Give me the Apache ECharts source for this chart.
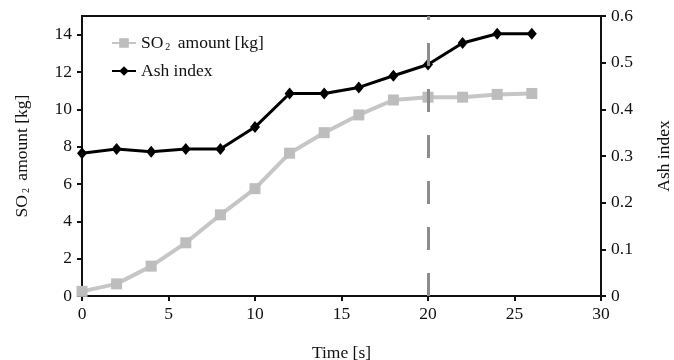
<!DOCTYPE html>
<html>
<head>
<meta charset="utf-8">
<script src="https://cdn.jsdelivr.net/npm/echarts@6/dist/echarts.min.js"></script>
<style>
  html, body { margin: 0; padding: 0; background: #fff; }
  #chart { width: 674px; height: 360px; }
</style>
</head>
<body>
<div id="chart"></div>
<script>
// time [s]
const times = [0, 2, 4, 6, 8, 10, 12, 14, 16, 18, 20, 22, 24, 26];
// SO2 amount [kg], left axis
const so2 = [0.25, 0.65, 1.6, 2.85, 4.35, 5.75, 7.65, 8.75, 9.7, 10.5, 10.65, 10.65, 10.8, 10.85];
// ash index, right axis
const ash = [0.306, 0.315, 0.309, 0.315, 0.315, 0.362, 0.434, 0.434, 0.447, 0.472, 0.496, 0.542, 0.562, 0.562];
const leftTicks = [0, 2, 4, 6, 8, 10, 12, 14];
const markTime = 20;

const font = 'Liberation Serif';
const fs = 17.5;
const chart = echarts.init(document.getElementById('chart'));

const pairs = (ys) => times.map((t, i) => [t, ys[i]]);
const subRich = { s: { fontFamily: font, fontSize: 10, verticalAlign: 'bottom', padding: [6, 3, 0, 2] } };

chart.setOption({
  backgroundColor: '#fff',
  animation: false,
  textStyle: { fontFamily: font, color: '#111' },
  grid: {
    left: 82, right: 73, top: 16, bottom: 64,
    outerBoundsMode: 'none',
    show: true, borderColor: '#111', borderWidth: 2,
  },
  legend: {
    orient: 'vertical',
    left: 106,
    top: 29,
    itemWidth: 24,
    itemHeight: 12,
    itemGap: 10,
    textStyle: { fontFamily: font, fontSize: fs, color: '#111', rich: subRich },
    formatter: (n) => (n === 'SO2' ? 'SO{s|2} amount [kg]' : n),
    data: ['SO2', 'Ash index'],
  },
  xAxis: {
    type: 'value',
    min: 0,
    max: 30,
    interval: 5,
    name: 'Time [s]',
    nameLocation: 'middle',
    nameGap: 48,
    nameTextStyle: { fontFamily: font, fontSize: fs, color: '#111' },
    axisLine: { lineStyle: { color: '#111', width: 2 } },
    axisTick: { show: true, length: 5, lineStyle: { color: '#111', width: 2 } },
    axisLabel: { fontFamily: font, fontSize: fs, color: '#111', margin: 9 },
    splitLine: { show: false },
  },
  yAxis: [
    {
      type: 'value',
      min: 0,
      max: 15,
      name: 'SO{s|2} amount [kg]',
      nameLocation: 'middle',
      nameRotate: 90,
      nameGap: 51,
      nameTextStyle: { fontFamily: font, fontSize: fs, color: '#111', rich: subRich },
      axisLine: { show: true, lineStyle: { color: '#111', width: 2 } },
      axisTick: { show: true, length: 5, customValues: leftTicks, lineStyle: { color: '#111', width: 2 } },
      axisLabel: { fontFamily: font, fontSize: fs, color: '#111', margin: 10, customValues: leftTicks },
      splitLine: { show: false },
    },
    {
      type: 'value',
      min: 0,
      max: 0.6,
      interval: 0.1,
      position: 'right',
      name: 'Ash index',
      nameLocation: 'middle',
      nameRotate: 90,
      nameGap: 54,
      nameTextStyle: { fontFamily: font, fontSize: fs, color: '#111' },
      axisLine: { show: true, lineStyle: { color: '#111', width: 2 } },
      axisTick: { show: true, length: 5, lineStyle: { color: '#111', width: 2 } },
      axisLabel: { fontFamily: font, fontSize: fs, color: '#111', margin: 10 },
      splitLine: { show: false },
    },
  ],
  series: [
    {
      name: 'marker',
      type: 'line',
      data: [],
      z: 1,
      markLine: {
        silent: true,
        symbol: 'none',
        label: { show: false },
        lineStyle: { color: '#8c8c8c', width: 3, type: [23, 23] },
        data: [[{ coord: [markTime, 0] }, { coord: [markTime, 15] }]],
      },
    },
    {
      name: 'SO2',
      type: 'line',
      yAxisIndex: 0,
      z: 3,
      data: pairs(so2),
      symbol: 'rect',
      symbolSize: 11,
      lineStyle: { color: '#c6c6c6', width: 4 },
      itemStyle: { color: '#bdbdbd' },
    },
    {
      name: 'Ash index',
      type: 'line',
      yAxisIndex: 1,
      z: 4,
      data: pairs(ash),
      symbol: 'diamond',
      symbolSize: [10, 12],
      lineStyle: { color: '#000', width: 3 },
      itemStyle: { color: '#000' },
    },
  ],
});
</script>
</body>
</html>
